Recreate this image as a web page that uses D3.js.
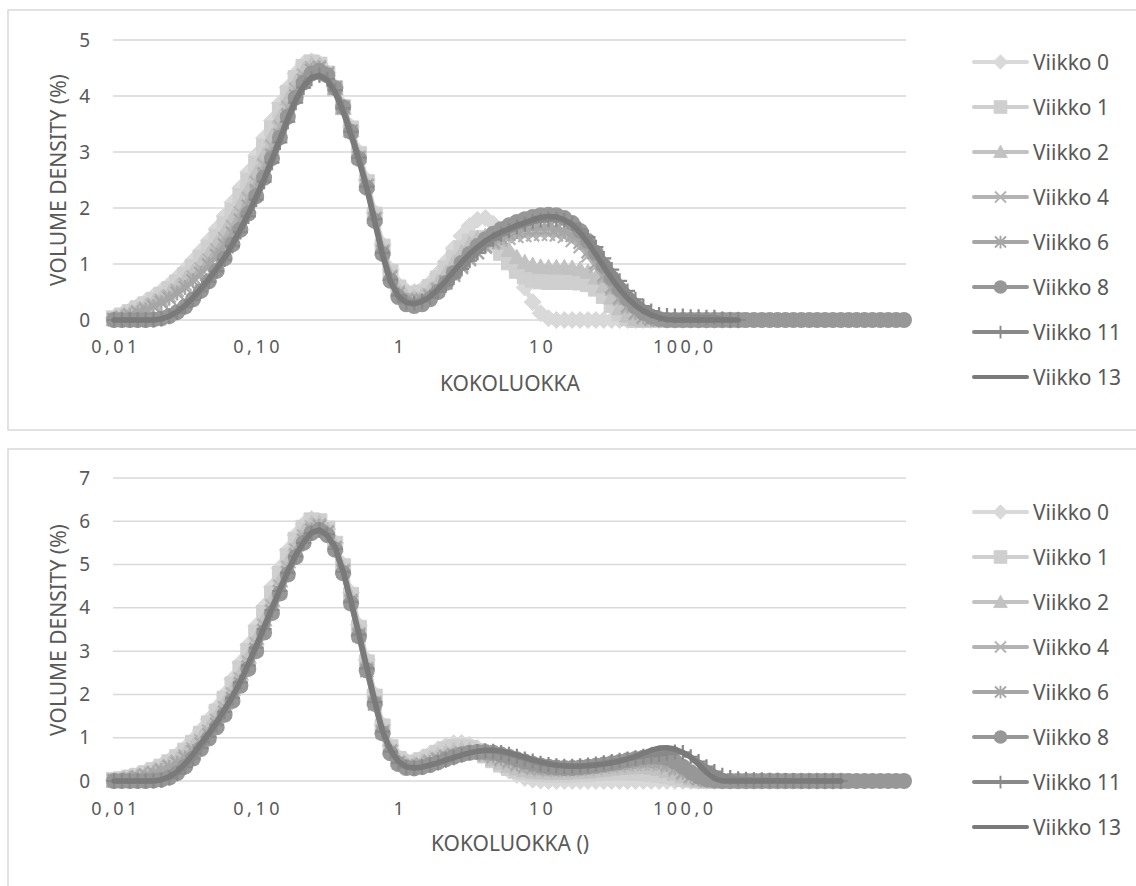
<!DOCTYPE html>
<html>
<head>
<meta charset="utf-8">
<script src="https://cdn.jsdelivr.net/npm/d3@7"></script>
<style>
  body { margin: 0; background: #fff; }
  text { font-family: "Noto Sans", sans-serif; fill: #595959; }
</style>
</head>
<body>
<svg id="chart" width="1136" height="886"></svg>
<script>
// size classes (um), 101 categories
var sizeClasses = [
  0.0100, 0.0114, 0.0129, 0.0147, 0.0167, 0.0189, 0.0215, 0.0244, 0.0278, 0.0315,
  0.0358, 0.0407, 0.0463, 0.0526, 0.0597, 0.0679, 0.0771, 0.0876, 0.0995, 0.113,
  0.128, 0.146, 0.166, 0.188, 0.214, 0.243, 0.276, 0.314, 0.357, 0.405,
  0.46, 0.523, 0.594, 0.675, 0.767, 0.872, 0.991, 1.13, 1.28, 1.45,
  1.65, 1.88, 2.13, 2.42, 2.75, 3.12, 3.55, 4.03, 4.58, 5.21,
  5.92, 6.72, 7.64, 8.68, 9.86, 11.2, 12.7, 14.5, 16.4, 18.7,
  21.2, 24.1, 27.4, 31.1, 35.3, 40.1, 45.6, 51.8, 58.9, 66.9,
  76, 86.4, 98.1, 111, 127, 144, 163, 186, 211, 240,
  272, 310, 352, 400, 454, 516, 586, 666, 756, 859,
  976, 1110, 1260, 1430, 1630, 1850, 2100, 2390, 2710, 3080,
  3500
];
var xTickIndex = [0, 18, 36, 54, 72];
var xTickLabels = ["0,01", "0,10", "1", "10", "100,0"];

var seriesNames = ["Viikko 0", "Viikko 1", "Viikko 2", "Viikko 4", "Viikko 6", "Viikko 8", "Viikko 11", "Viikko 13"];
var seriesColors = ["#d9d9d9", "#cfcfcf", "#c2c2c2", "#b3b3b3", "#a6a6a6", "#979797", "#898989", "#7a7a7a"];
var seriesMarkers = ["diamond", "square", "triangle", "x", "star", "circle", "plus", "none"];

// ---- upper chart ----
var topV0 = [
  0.04, 0.1, 0.17, 0.25, 0.33, 0.42, 0.52, 0.63, 0.76, 0.9,
  1.06, 1.23, 1.42, 1.63, 1.86, 2.1, 2.36, 2.64, 2.94, 3.25,
  3.56, 3.87, 4.15, 4.4, 4.57, 4.62, 4.58, 4.42, 4.16, 3.83,
  3.45, 3.0, 2.5, 1.92, 1.35, 0.9, 0.63, 0.52, 0.5, 0.55,
  0.66, 0.83, 1.04, 1.28, 1.5, 1.68, 1.79, 1.82, 1.72, 1.5,
  1.2, 0.88, 0.58, 0.32, 0.12, 0.03, 0, 0, 0, 0,
  0, 0, 0, 0, 0, 0, 0, 0, 0, 0,
  0, 0, 0, 0, 0, 0, 0, 0, 0, 0
];
var topV1 = [
  0.03, 0.08, 0.14, 0.21, 0.28, 0.36, 0.45, 0.55, 0.67, 0.8,
  0.95, 1.11, 1.29, 1.49, 1.71, 1.95, 2.21, 2.49, 2.79, 3.1,
  3.42, 3.75, 4.05, 4.32, 4.52, 4.6, 4.56, 4.4, 4.14, 3.8,
  3.42, 2.96, 2.46, 1.88, 1.31, 0.86, 0.58, 0.47, 0.45, 0.49,
  0.59, 0.74, 0.92, 1.11, 1.28, 1.4, 1.46, 1.45, 1.36, 1.2,
  1.03, 0.88, 0.78, 0.72, 0.69, 0.68, 0.68, 0.68, 0.68, 0.67,
  0.64, 0.56, 0.43, 0.27, 0.12, 0.03, 0, 0, 0, 0,
  0, 0, 0, 0, 0, 0, 0, 0, 0, 0
];
var topV2 = [
  0.02, 0.07, 0.12, 0.18, 0.25, 0.32, 0.4, 0.49, 0.6, 0.72,
  0.86, 1.01, 1.18, 1.37, 1.58, 1.81, 2.06, 2.33, 2.63, 2.95,
  3.28, 3.62, 3.95, 4.24, 4.46, 4.57, 4.55, 4.4, 4.14, 3.79,
  3.39, 2.93, 2.43, 1.84, 1.27, 0.82, 0.54, 0.42, 0.4, 0.44,
  0.53, 0.67, 0.84, 1.03, 1.21, 1.36, 1.46, 1.5, 1.47, 1.38,
  1.25, 1.12, 1.03, 0.98, 0.95, 0.94, 0.94, 0.94, 0.93, 0.91,
  0.86, 0.76, 0.6, 0.4, 0.21, 0.08, 0.02, 0, 0, 0,
  0, 0, 0, 0, 0, 0, 0, 0, 0, 0
];
var topV4 = [
  0.01, 0.05, 0.1, 0.15, 0.21, 0.28, 0.35, 0.43, 0.53, 0.64,
  0.77, 0.91, 1.07, 1.25, 1.45, 1.67, 1.91, 2.17, 2.46, 2.77,
  3.1, 3.45, 3.8, 4.12, 4.37, 4.51, 4.52, 4.4, 4.14, 3.79,
  3.37, 2.9, 2.4, 1.81, 1.23, 0.78, 0.5, 0.38, 0.36, 0.38,
  0.45, 0.56, 0.69, 0.83, 0.97, 1.1, 1.21, 1.3, 1.37, 1.42,
  1.46, 1.49, 1.51, 1.52, 1.53, 1.53, 1.52, 1.49, 1.42, 1.31,
  1.15, 0.96, 0.75, 0.55, 0.37, 0.22, 0.11, 0.04, 0.01, 0,
  0, 0, 0, 0, 0, 0, 0, 0, 0, 0
];
var topV6 = [
  0.01, 0.04, 0.08, 0.13, 0.18, 0.24, 0.31, 0.39, 0.48, 0.58,
  0.7, 0.83, 0.98, 1.15, 1.34, 1.55, 1.78, 2.03, 2.31, 2.61,
  2.94, 3.3, 3.66, 4.0, 4.28, 4.46, 4.5, 4.4, 4.15, 3.8,
  3.37, 2.9, 2.4, 1.8, 1.21, 0.76, 0.47, 0.35, 0.33, 0.35,
  0.42, 0.53, 0.66, 0.8, 0.94, 1.08, 1.2, 1.31, 1.4, 1.47,
  1.53, 1.58, 1.62, 1.64, 1.65, 1.65, 1.63, 1.59, 1.51, 1.39,
  1.22, 1.02, 0.8, 0.59, 0.4, 0.25, 0.13, 0.06, 0.02, 0,
  0, 0, 0, 0, 0, 0, 0, 0, 0, 0
];
var topV8 = [
  0, 0, 0, 0, 0, 0.01, 0.03, 0.07, 0.14, 0.24,
  0.37, 0.52, 0.69, 0.88, 1.1, 1.35, 1.61, 1.9, 2.21, 2.54,
  2.89, 3.26, 3.63, 3.97, 4.24, 4.4, 4.45, 4.37, 4.14, 3.8,
  3.36, 2.88, 2.36, 1.77, 1.18, 0.7, 0.41, 0.28, 0.25, 0.28,
  0.37, 0.5, 0.66, 0.84, 1.02, 1.18, 1.32, 1.44, 1.54, 1.62,
  1.69, 1.75, 1.8, 1.84, 1.87, 1.88, 1.87, 1.82, 1.73, 1.59,
  1.41, 1.2, 0.97, 0.75, 0.55, 0.38, 0.24, 0.13, 0.06, 0.02,
  0, 0, 0, 0, 0, 0, 0, 0, 0, 0,
  0, 0, 0, 0, 0, 0, 0, 0, 0, 0,
  0, 0, 0, 0, 0, 0, 0, 0, 0, 0,
  0
];
var topV11 = [
  0, 0, 0, 0, 0, 0, 0.02, 0.06, 0.13, 0.23,
  0.36, 0.51, 0.68, 0.87, 1.08, 1.32, 1.57, 1.85, 2.15, 2.47,
  2.81, 3.17, 3.54, 3.88, 4.15, 4.31, 4.37, 4.3, 4.1, 3.78,
  3.36, 2.9, 2.38, 1.8, 1.2, 0.72, 0.44, 0.32, 0.3, 0.33,
  0.4, 0.5, 0.62, 0.76, 0.91, 1.06, 1.2, 1.33, 1.44, 1.53,
  1.6, 1.66, 1.71, 1.75, 1.78, 1.8, 1.8, 1.78, 1.72, 1.62,
  1.48, 1.3, 1.1, 0.9, 0.7, 0.52, 0.37, 0.25, 0.16, 0.1,
  0.08, 0.07, 0.07, 0.06, 0.06, 0.05, 0.05, 0.02, 0, 0
];
var topV13 = [
  0, 0, 0, 0, 0, 0, 0.02, 0.07, 0.15, 0.26,
  0.4, 0.56, 0.73, 0.92, 1.12, 1.36, 1.62, 1.9, 2.2, 2.52,
  2.87, 3.23, 3.6, 3.93, 4.18, 4.33, 4.37, 4.28, 4.06, 3.72,
  3.3, 2.85, 2.35, 1.75, 1.15, 0.68, 0.42, 0.31, 0.29, 0.33,
  0.42, 0.55, 0.7, 0.87, 1.03, 1.18, 1.3, 1.41, 1.5, 1.57,
  1.63, 1.69, 1.74, 1.79, 1.83, 1.85, 1.84, 1.79, 1.7, 1.56,
  1.38, 1.17, 0.95, 0.74, 0.55, 0.39, 0.26, 0.16, 0.09, 0.04,
  0.01, 0, 0, 0, 0, 0, 0, 0, 0, 0
];

// ---- lower chart ----
var botV0 = [
  0.02, 0.05, 0.09, 0.14, 0.2, 0.27, 0.36, 0.47, 0.6, 0.76,
  0.95, 1.17, 1.42, 1.7, 2.0, 2.35, 2.73, 3.14, 3.58, 4.03,
  4.48, 4.92, 5.33, 5.68, 5.93, 6.05, 6.0, 5.82, 5.5, 5.0,
  4.35, 3.6, 2.8, 2.0, 1.3, 0.82, 0.55, 0.46, 0.47, 0.54,
  0.63, 0.73, 0.82, 0.87, 0.88, 0.84, 0.76, 0.64, 0.5, 0.36,
  0.24, 0.14, 0.07, 0.03, 0.01, 0, 0, 0, 0, 0,
  0, 0, 0, 0, 0, 0, 0, 0, 0, 0,
  0, 0, 0, 0, 0, 0, 0, 0, 0, 0,
  0, 0, 0, 0, 0, 0, 0, 0, 0, 0,
  0, 0, 0
];
var botV1 = [
  0.02, 0.04, 0.08, 0.12, 0.18, 0.25, 0.33, 0.43, 0.55, 0.7,
  0.88, 1.09, 1.33, 1.6, 1.9, 2.23, 2.6, 3.0, 3.43, 3.88,
  4.33, 4.78, 5.2, 5.57, 5.85, 6.02, 6.0, 5.83, 5.48, 4.96,
  4.3, 3.54, 2.74, 1.95, 1.26, 0.78, 0.51, 0.42, 0.42, 0.48,
  0.56, 0.65, 0.73, 0.78, 0.79, 0.76, 0.69, 0.59, 0.48, 0.38,
  0.3, 0.24, 0.2, 0.17, 0.16, 0.15, 0.15, 0.15, 0.15, 0.16,
  0.17, 0.18, 0.19, 0.2, 0.2, 0.2, 0.19, 0.18, 0.16, 0.14,
  0.11, 0.08, 0.05, 0.03, 0.01, 0, 0, 0, 0, 0,
  0, 0, 0, 0, 0, 0, 0, 0, 0, 0,
  0, 0, 0
];
var botV2 = [
  0.01, 0.03, 0.07, 0.11, 0.16, 0.22, 0.3, 0.39, 0.5, 0.64,
  0.81, 1.01, 1.24, 1.5, 1.8, 2.12, 2.48, 2.87, 3.29, 3.73,
  4.18, 4.63, 5.07, 5.45, 5.76, 5.95, 5.97, 5.8, 5.44, 4.92,
  4.25, 3.49, 2.69, 1.9, 1.22, 0.75, 0.48, 0.39, 0.39, 0.44,
  0.51, 0.59, 0.66, 0.71, 0.73, 0.72, 0.67, 0.59, 0.5, 0.42,
  0.35, 0.29, 0.25, 0.22, 0.2, 0.19, 0.19, 0.19, 0.2, 0.21,
  0.22, 0.24, 0.26, 0.28, 0.3, 0.31, 0.32, 0.32, 0.31, 0.28,
  0.23, 0.17, 0.11, 0.06, 0.02, 0, 0, 0, 0, 0,
  0, 0, 0, 0, 0, 0, 0, 0, 0, 0,
  0, 0, 0
];
var botV4 = [
  0.01, 0.03, 0.06, 0.1, 0.14, 0.2, 0.27, 0.35, 0.45, 0.58,
  0.74, 0.93, 1.15, 1.4, 1.69, 2.01, 2.36, 2.75, 3.17, 3.6,
  4.05, 4.5, 4.94, 5.34, 5.66, 5.87, 5.92, 5.76, 5.4, 4.87,
  4.18, 3.4, 2.6, 1.82, 1.15, 0.7, 0.44, 0.36, 0.36, 0.4,
  0.46, 0.52, 0.58, 0.62, 0.65, 0.66, 0.65, 0.61, 0.55, 0.48,
  0.42, 0.36, 0.31, 0.28, 0.26, 0.25, 0.24, 0.24, 0.25, 0.26,
  0.27, 0.29, 0.31, 0.33, 0.35, 0.37, 0.38, 0.39, 0.39, 0.37,
  0.32, 0.25, 0.17, 0.1, 0.05, 0.02, 0, 0, 0, 0,
  0, 0, 0, 0, 0, 0, 0, 0, 0, 0,
  0, 0, 0
];
var botV6 = [
  0.01, 0.02, 0.05, 0.09, 0.13, 0.18, 0.24, 0.32, 0.41, 0.53,
  0.68, 0.86, 1.07, 1.31, 1.59, 1.9, 2.25, 2.63, 3.04, 3.47,
  3.92, 4.37, 4.81, 5.22, 5.56, 5.8, 5.88, 5.74, 5.38, 4.84,
  4.14, 3.36, 2.55, 1.78, 1.12, 0.68, 0.42, 0.34, 0.33, 0.37,
  0.43, 0.49, 0.55, 0.6, 0.63, 0.65, 0.65, 0.63, 0.58, 0.52,
  0.46, 0.4, 0.35, 0.32, 0.3, 0.29, 0.29, 0.29, 0.3, 0.31,
  0.33, 0.35, 0.37, 0.39, 0.41, 0.43, 0.45, 0.46, 0.46, 0.44,
  0.38, 0.3, 0.2, 0.11, 0.05, 0.02, 0, 0, 0, 0,
  0, 0, 0, 0, 0, 0, 0, 0, 0, 0,
  0, 0, 0
];
var botV8 = [
  0, 0, 0, 0, 0, 0.01, 0.03, 0.08, 0.18, 0.33,
  0.52, 0.74, 0.98, 1.24, 1.53, 1.85, 2.2, 2.59, 3.0, 3.43,
  3.88, 4.33, 4.77, 5.17, 5.5, 5.73, 5.8, 5.68, 5.34, 4.8,
  4.1, 3.34, 2.55, 1.78, 1.1, 0.64, 0.39, 0.3, 0.29, 0.32,
  0.37, 0.43, 0.5, 0.56, 0.61, 0.65, 0.67, 0.67, 0.65, 0.61,
  0.56, 0.5, 0.45, 0.4, 0.36, 0.33, 0.31, 0.3, 0.3, 0.31,
  0.33, 0.35, 0.38, 0.41, 0.44, 0.48, 0.51, 0.54, 0.56, 0.56,
  0.53, 0.45, 0.33, 0.2, 0.1, 0.04, 0.01, 0, 0, 0,
  0, 0, 0, 0, 0, 0, 0, 0, 0, 0,
  0, 0, 0, 0, 0, 0, 0, 0, 0, 0,
  0
];
var botV11 = [
  0, 0, 0, 0, 0, 0, 0.02, 0.07, 0.17, 0.32,
  0.52, 0.76, 1.02, 1.3, 1.6, 1.92, 2.28, 2.67, 3.08, 3.51,
  3.95, 4.39, 4.81, 5.19, 5.5, 5.72, 5.8, 5.7, 5.36, 4.83,
  4.14, 3.38, 2.6, 1.82, 1.14, 0.68, 0.42, 0.32, 0.3, 0.33,
  0.37, 0.42, 0.48, 0.54, 0.6, 0.65, 0.68, 0.7, 0.69, 0.66,
  0.62, 0.57, 0.51, 0.46, 0.41, 0.38, 0.35, 0.34, 0.34, 0.35,
  0.37, 0.39, 0.42, 0.45, 0.48, 0.51, 0.54, 0.57, 0.6, 0.62,
  0.64, 0.67, 0.66, 0.56, 0.45, 0.33, 0.22, 0.13, 0.08, 0.05,
  0.04, 0.03, 0.03, 0.02, 0.02, 0.01, 0.01, 0, 0, 0,
  0, 0, 0
];
var botV13 = [
  0, 0, 0, 0, 0, 0, 0.03, 0.1, 0.22, 0.4,
  0.62, 0.86, 1.1, 1.36, 1.65, 1.95, 2.3, 2.7, 3.12, 3.56,
  4.0, 4.43, 4.85, 5.22, 5.52, 5.74, 5.8, 5.67, 5.4, 4.85,
  4.15, 3.4, 2.63, 1.85, 1.15, 0.72, 0.45, 0.33, 0.3, 0.32,
  0.37, 0.42, 0.48, 0.54, 0.6, 0.65, 0.69, 0.71, 0.71, 0.69,
  0.65, 0.6, 0.55, 0.49, 0.44, 0.4, 0.37, 0.35, 0.34, 0.34,
  0.35, 0.37, 0.39, 0.42, 0.46, 0.51, 0.57, 0.64, 0.71, 0.76,
  0.77, 0.74, 0.66, 0.55, 0.38, 0.2, 0.06, 0, 0, 0,
  0, 0, 0, 0, 0, 0, 0, 0, 0, 0,
  0, 0, 0
];

var svg = d3.select('#chart');

var x = d3.scalePoint()
  .domain(d3.range(sizeClasses.length))
  .range([114, 904]);

function markerPath(type) {
  switch (type) {
    case 'diamond': return 'M0,-8.5L8.5,0L0,8.5L-8.5,0Z';
    case 'square': return 'M-7.5,-7.5H7.5V7.5H-7.5Z';
    case 'triangle': return 'M0,-8L8,6.5L-8,6.5Z';
    case 'x': return 'M-6.5,-6.5L6.5,6.5M6.5,-6.5L-6.5,6.5';
    case 'star': return 'M-6.5,-6.5L6.5,6.5M6.5,-6.5L-6.5,6.5M0,-7.5V7.5';
    case 'plus': return 'M-7.5,0H7.5M0,-7.5V7.5';
  }
  return null;
}

function drawMarker(g, type, color, cx, cy, scale) {
  if (type === 'none') return;
  if (type === 'circle') {
    g.append('circle').attr('cx', cx).attr('cy', cy).attr('r', 8 * scale)
      .attr('fill', color);
    return;
  }
  var stroked = (type === 'x' || type === 'star' || type === 'plus');
  g.append('path')
    .attr('d', markerPath(type))
    .attr('transform', 'translate(' + cx + ',' + cy + ') scale(' + scale + ')')
    .attr('fill', stroked ? 'none' : color)
    .attr('stroke', color)
    .attr('stroke-width', stroked ? 2.2 : 1);
}

function drawChart(cfg) {
  var g = svg.append('g');

  // chart frame
  g.append('rect')
    .attr('x', 8).attr('y', cfg.frameY)
    .attr('width', 1140).attr('height', cfg.frameH)
    .attr('fill', 'none').attr('stroke', '#d9d9d9').attr('stroke-width', 1.5);

  var y = d3.scaleLinear().domain([0, cfg.yMax]).range([cfg.y0, cfg.y1]);
  var yTicks = d3.range(cfg.yMax + 1);

  // gridlines
  g.selectAll('.grid')
    .data(yTicks)
    .enter()
    .append('line')
      .attr('x1', 113).attr('x2', 906)
      .attr('y1', function(d){ return y(d); })
      .attr('y2', function(d){ return y(d); })
      .attr('stroke', '#d9d9d9').attr('stroke-width', 1.5);

  // y labels
  g.selectAll('.yl')
    .data(yTicks)
    .enter()
    .append('text')
      .attr('x', 90)
      .attr('y', function(d){ return y(d) + 6.5; })
      .attr('text-anchor', 'end')
      .style('font-size', '19px')
      .text(function(d){ return d; });

  // x labels
  g.selectAll('.xl')
    .data(xTickIndex)
    .enter()
    .append('text')
      .attr('x', function(d){ return x(d) + 2; })
      .attr('y', cfg.xLabelY)
      .attr('text-anchor', 'middle')
      .style('font-size', '18px')
      .style('letter-spacing', '3.5px')
      .text(function(d, i){ return xTickLabels[i]; });

  // axis titles
  g.append('text')
    .attr('x', 510).attr('y', cfg.xTitleY)
    .attr('text-anchor', 'middle')
    .style('font-size', '21px')
    .text(cfg.xTitle);
  g.append('text')
    .attr('transform', 'translate(66,' + cfg.yTitleCY + ') rotate(-90)')
    .attr('text-anchor', 'middle')
    .style('font-size', '21px')
    .text('VOLUME DENSITY (%)');

  // series
  var line = d3.line()
    .x(function(d, i){ return x(i); })
    .y(function(d){ return y(d); });

  cfg.series.forEach(function(vals, k) {
    var color = seriesColors[k];
    var sg = g.append('g');
    sg.append('path')
      .attr('d', line(vals))
      .attr('fill', 'none')
      .attr('stroke', color)
      .attr('stroke-width', k === 7 ? 5.5 : 5)
      .attr('stroke-linejoin', 'round')
      .attr('stroke-linecap', 'round');
    vals.forEach(function(v, i) {
      drawMarker(sg, seriesMarkers[k], color, x(i), y(v), 1);
    });
  });

  // legend
  var lg = g.append('g');
  seriesNames.forEach(function(name, k) {
    var cy = cfg.legendY0 + k * 45;
    lg.append('line')
      .attr('x1', 974).attr('x2', 1027).attr('y1', cy).attr('y2', cy)
      .attr('stroke', seriesColors[k]).attr('stroke-width', 4)
      .attr('stroke-linecap', 'round');
    drawMarker(lg, seriesMarkers[k], seriesColors[k], 1000.5, cy, 0.85);
    lg.append('text')
      .attr('x', 1033).attr('y', cy + 7.5)
      .style('font-size', '21px')
      .text(name);
  });
}

drawChart({
  frameY: 10, frameH: 420, y0: 320, y1: 40, yMax: 5,
  xLabelY: 353, xTitleY: 391, xTitle: 'KOKOLUOKKA',
  yTitleCY: 180, legendY0: 62,
  series: [topV0, topV1, topV2, topV4, topV6, topV8, topV11, topV13]
});

drawChart({
  frameY: 449, frameH: 600, y0: 781, y1: 478, yMax: 7,
  xLabelY: 815, xTitleY: 851, xTitle: 'KOKOLUOKKA ()',
  yTitleCY: 630, legendY0: 512,
  series: [botV0, botV1, botV2, botV4, botV6, botV8, botV11, botV13]
});
</script>
</body>
</html>
